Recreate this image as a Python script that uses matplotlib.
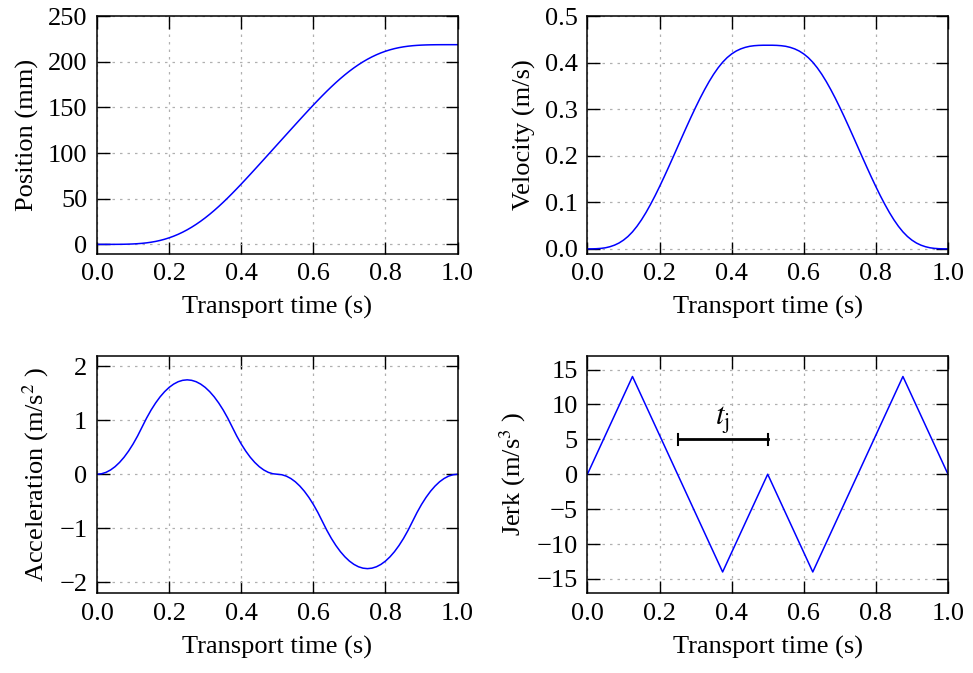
import numpy as np
import matplotlib
matplotlib.use("Agg")
import matplotlib.pyplot as plt

plt.rcParams['font.family'] = ['Liberation Serif', 'DejaVu Serif']
plt.rcParams['mathtext.fontset'] = 'stix'
plt.rcParams['font.size'] = 19

# transport time samples (s), step 0.0125
t = np.linspace(0.0, 1.0, 81)

# position (mm)
posicion = [0.000, 0.000, 0.002, 0.009, 0.029, 0.071, 0.148, 0.274, 0.467, 0.748,
            1.139, 1.668, 2.359, 3.236, 4.318, 5.625, 7.171, 8.969, 11.027, 13.353,
            15.951, 18.822, 21.964, 25.375, 29.046, 32.969, 37.131, 41.517, 46.109, 50.887,
            55.827, 60.904, 66.092, 71.367, 76.710, 82.102, 87.529, 92.978, 98.439, 103.906,
            109.375, 114.844, 120.311, 125.772, 131.221, 136.648, 142.040, 147.383, 152.658, 157.846,
            162.923, 167.863, 172.641, 177.233, 181.619, 185.781, 189.704, 193.375, 196.786, 199.928,
            202.799, 205.397, 207.723, 209.781, 211.579, 213.125, 214.432, 215.514, 216.391, 217.082,
            217.611, 218.002, 218.283, 218.476, 218.602, 218.679, 218.721, 218.741, 218.748, 218.750,
            218.750]

# velocity (m/s)
velocidad = [0.0000, 0.0000, 0.0003, 0.0010, 0.0023, 0.0046, 0.0079, 0.0125, 0.0187, 0.0266,
             0.0365, 0.0485, 0.0624, 0.0781, 0.0954, 0.1139, 0.1336, 0.1541, 0.1753, 0.1969,
             0.2188, 0.2406, 0.2622, 0.2834, 0.3039, 0.3236, 0.3421, 0.3594, 0.3751, 0.3890,
             0.4010, 0.4109, 0.4188, 0.4250, 0.4296, 0.4329, 0.4352, 0.4365, 0.4372, 0.4375,
             0.4375,
             0.4375, 0.4372, 0.4365, 0.4352, 0.4329, 0.4296, 0.4250, 0.4188, 0.4109, 0.4010,
             0.3890, 0.3751, 0.3594, 0.3421, 0.3236, 0.3039, 0.2834, 0.2622, 0.2406, 0.2188,
             0.1969, 0.1753, 0.1541, 0.1336, 0.1139, 0.0954, 0.0781, 0.0624, 0.0485, 0.0365,
             0.0266, 0.0187, 0.0125, 0.0079, 0.0046, 0.0023, 0.0010, 0.0003, 0.0000, 0.0000]

# acceleration (m/s^2)
aceleracion = [0.0, 0.009, 0.035, 0.079, 0.140, 0.219, 0.315, 0.429, 0.560, 0.709,
               0.875, 1.041, 1.190, 1.321, 1.435, 1.531, 1.610, 1.671, 1.715, 1.741,
               1.750, 1.741, 1.715, 1.671, 1.610, 1.531, 1.435, 1.321, 1.190, 1.041,
               0.875, 0.709, 0.560, 0.429, 0.315, 0.219, 0.140, 0.079, 0.035, 0.009,
               0.0,
               -0.009, -0.035, -0.079, -0.140, -0.219, -0.315, -0.429, -0.560, -0.709, -0.875,
               -1.041, -1.190, -1.321, -1.435, -1.531, -1.610, -1.671, -1.715, -1.741, -1.750,
               -1.741, -1.715, -1.671, -1.610, -1.531, -1.435, -1.321, -1.190, -1.041, -0.875,
               -0.709, -0.560, -0.429, -0.315, -0.219, -0.140, -0.079, -0.035, -0.009, 0.0]

# jerk (m/s^3), piecewise linear corners
t_jerk = [0.0, 0.125, 0.375, 0.5, 0.625, 0.875, 1.0]
jerk = [0.0, 14.0, -14.0, 0.0, -14.0, 14.0, 0.0]

# t_j marker
tj_x = [0.25, 0.5]
tj_y = 5

fig, axs = plt.subplots(2, 2, figsize=(9.73, 6.73), dpi=100)
fig.subplots_adjust(left=0.0997, right=0.9743, top=0.976, bottom=0.119,
                    wspace=0.36, hspace=0.43)

def estilo(ax, ylim, yticks, ylabel):
    ax.set_xlim(0, 1)
    ax.set_ylim(*ylim)
    ax.set_xticks([0.0, 0.2, 0.4, 0.6, 0.8, 1.0])
    ax.set_yticks(yticks)
    ax.set_xlabel('Transport time (s)', labelpad=8)
    ax.set_ylabel(ylabel, labelpad=6)
    ax.grid(True, color='#b0b0b0', linestyle=(0, (2, 4)), linewidth=0.9)
    ax.tick_params(direction='in', top=True, right=True, length=9, width=1, pad=7)
    for s in ax.spines.values():
        s.set_linewidth(1.1)

ax = axs[0, 0]
ax.plot(t, posicion, color='b', linewidth=1.1)
estilo(ax, (-10, 250), [0, 50, 100, 150, 200, 250], 'Position (mm)')

ax = axs[0, 1]
ax.plot(t, velocidad, color='b', linewidth=1.1)
estilo(ax, (-0.01, 0.5), [0.0, 0.1, 0.2, 0.3, 0.4, 0.5], 'Velocity (m/s)')

ax = axs[1, 0]
ax.plot(t, aceleracion, color='b', linewidth=1.1)
estilo(ax, (-2.2, 2.2), [-2, -1, 0, 1, 2], 'Acceleration (m/s$^2$ )')

ax = axs[1, 1]
ax.plot(t_jerk, jerk, color='b', linewidth=1.1)
estilo(ax, (-17, 17), [-15, -10, -5, 0, 5, 10, 15], 'Jerk (m/s$^3$ )')
ax.plot(tj_x, [tj_y, tj_y], color='k', linewidth=2)
ax.plot([tj_x[0], tj_x[0]], [tj_y - 0.8, tj_y + 0.8], color='k', linewidth=1.5)
ax.plot([tj_x[1], tj_x[1]], [tj_y - 0.8, tj_y + 0.8], color='k', linewidth=1.5)
ax.text(sum(tj_x) / 2, tj_y + 0.5, r'$t_\mathrm{j}$', ha='center', va='bottom', fontsize=22)

fig.savefig('out.png', dpi=100)
